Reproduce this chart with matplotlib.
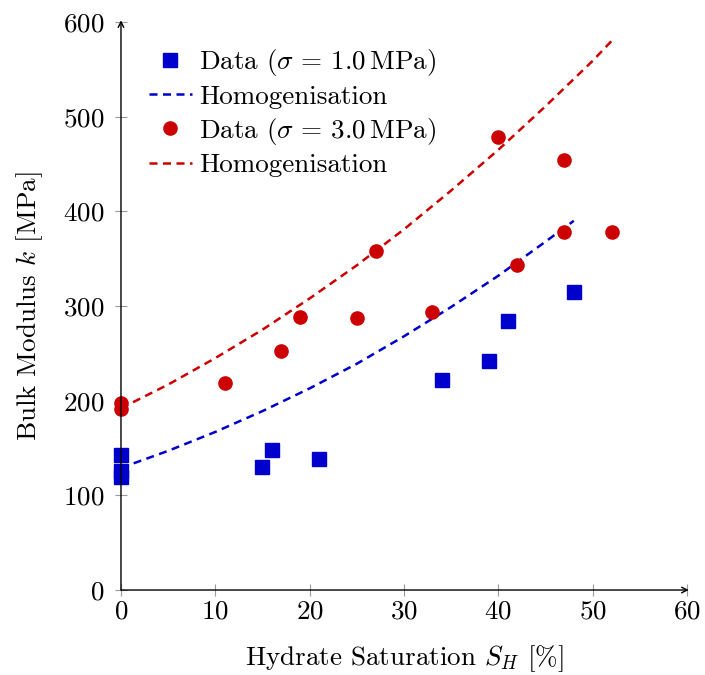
import matplotlib
matplotlib.use('Agg')
import matplotlib.pyplot as plt

plt.rcParams['font.family'] = 'serif'
plt.rcParams['font.serif'] = ['cmr10', 'DejaVu Serif']
plt.rcParams['mathtext.fontset'] = 'cm'
plt.rcParams['axes.unicode_minus'] = False
plt.rcParams['axes.formatter.use_mathtext'] = True

# measured data, sigma = 1.0 MPa
sh_1 = [0, 0, 0, 15, 16, 21, 34, 39, 41, 48]
k_1 = [143, 126, 119, 130, 148, 138, 222, 242, 284, 315]

# measured data, sigma = 3.0 MPa
sh_3 = [0, 0, 11, 17, 19, 25, 27, 33, 40, 42, 47, 47, 52]
k_3 = [198, 191, 219, 252, 288, 287, 358, 294, 479, 343, 454, 378, 378]

# homogenisation curves
sh_hom_1 = [0, 5, 10, 15, 20, 25, 30, 35, 40, 45, 48]
k_hom_1 = [129, 147, 167, 189, 213, 239, 268, 299, 332, 368, 390]
sh_hom_3 = [0, 5, 10, 15, 20, 25, 30, 35, 40, 45, 50, 52]
k_hom_3 = [192, 217, 245, 275, 308, 343, 381, 422, 465, 511, 559, 580]

xticks = [0, 10, 20, 30, 40, 50, 60]
yticks = [0, 100, 200, 300, 400, 500, 600]

blue = (0, 0, 0.8)
red = (0.8, 0, 0)
fs = 19.5

fig = plt.figure(figsize=(7.05, 6.75), dpi=100)
ax = fig.add_axes([0.1716, 0.1259, 0.8029, 0.8415])

dash = (0, (3.2, 2.2))
ax.plot(sh_1, k_1, 's', color=blue, ms=9.5, mec=blue, clip_on=False,
	label=r'Data ($\sigma\, =\, 1.0\,\mathrm{MPa}$)', zorder=3)
ax.plot(sh_hom_1, k_hom_1, color=blue, lw=1.8, ls=dash, label='Homogenisation', zorder=2)
ax.plot(sh_3, k_3, 'o', color=red, ms=9.5, clip_on=False,
	label=r'Data ($\sigma\, =\, 3.0\,\mathrm{MPa}$)', zorder=3)
ax.plot(sh_hom_3, k_hom_3, color=red, lw=1.8, ls=dash, label='Homogenisation', zorder=2)

ax.set_xlim(0, 60)
ax.set_ylim(0, 600)
ax.set_xticks(xticks)
ax.set_yticks(yticks)
ax.tick_params(direction='inout', length=8, width=0.8, color='0.6', labelsize=fs)
ax.tick_params(axis='x', pad=3)
ax.tick_params(axis='y', pad=8)

for s in ['top', 'right', 'left', 'bottom']:
	ax.spines[s].set_visible(False)
# axis lines with arrow heads
ax.annotate('', xy=(1.003, 0), xytext=(0, 0), xycoords='axes fraction',
	arrowprops=dict(arrowstyle='->', lw=1.0, color='black', shrinkA=0, shrinkB=0), annotation_clip=False)
ax.annotate('', xy=(0, 1.003), xytext=(0, 0), xycoords='axes fraction',
	arrowprops=dict(arrowstyle='->', lw=1.0, color='black', shrinkA=0, shrinkB=0), annotation_clip=False)

ax.set_xlabel(r'Hydrate Saturation $S_H$ [%]', fontsize=fs, labelpad=14.5)
ax.set_ylabel(r'Bulk Modulus $k$ [MPa]', fontsize=fs, labelpad=13)

ax.legend(loc='upper left', bbox_to_anchor=(0.03, 0.975), frameon=False, fontsize=fs,
	handlelength=1.6, handletextpad=0.25, labelspacing=0.25, borderaxespad=0)

fig.savefig('out.png', dpi=100)
